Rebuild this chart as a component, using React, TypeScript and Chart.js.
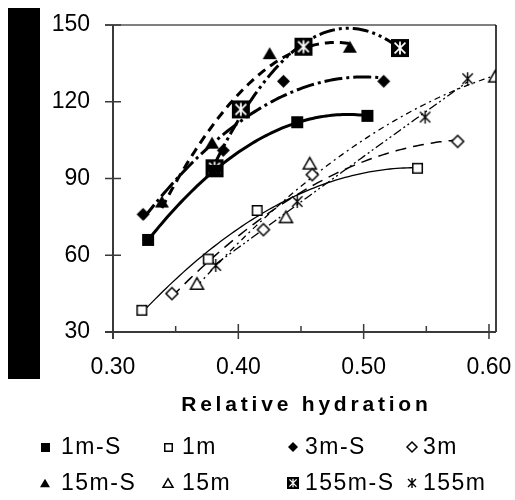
import React, { useEffect, useRef } from 'react';
import { Chart, registerables } from 'chart.js';

Chart.register(...registerables);

// ---------- data ----------
const seriesNames = ['1m-S', '1m', '3m-S', '3m', '15m-S', '15m', '155m-S', '155m'];

const x1mS = [0.328, 0.381, 0.447, 0.503];
const y1mS = [66, 93, 112, 114.5];
const x1m = [0.323, 0.376, 0.415, 0.543];
const y1m = [38.5, 58.5, 77.5, 94];
const x3mS = [0.324, 0.388, 0.436, 0.516];
const y3mS = [76, 101, 128, 128];
const x3m = [0.347, 0.42, 0.459, 0.575];
const y3m = [45, 70, 91.5, 104.5];
const x15mS = [0.339, 0.379, 0.425, 0.489];
const y15mS = [81, 104, 139, 141.5];
const x15m = [0.367, 0.438, 0.457, 0.605];
const y15m = [49, 75, 96, 130];
const x155mS = [0.381, 0.402, 0.452, 0.529];
const y155mS = [94, 117, 141.5, 141];
const x155m = [0.382, 0.447, 0.549, 0.583];
const y155m = [56, 81, 114, 129];

const xTicks = [0.3, 0.4, 0.5, 0.6];
const xMinorTicks = [0.35, 0.45, 0.55];
const yTicks = [30, 60, 90, 120, 150];
const xTitle = 'Relative hydration';

const seriesX = [x1mS, x1m, x3mS, x3m, x15mS, x15m, x155mS, x155m];
const seriesY = [y1mS, y1m, y3mS, y3m, y15mS, y15m, y155mS, y155m];

// ---------- styles ----------
const FONT = "'Liberation Sans', Arial, Helvetica, sans-serif";
const markerKinds = ['sqFill', 'sqOpen', 'diaFill', 'diaOpen', 'triFill', 'triOpen', 'sqStar', 'star'];
const markerSizes = [12, 11, 13, 12, 14, 13, 18, 13];
const legendMarkerSizes = [9, 9, 10, 10, 10, 10, 12, 10];
const trendStyles = [
  { dash: [] as number[], width: 3 },
  { dash: [] as number[], width: 1.3 },
  { dash: [18, 4, 3, 4], width: 3 },
  { dash: [11, 7], width: 1.5 },
  { dash: [9, 6], width: 3 },
  { dash: [6, 4, 2, 4], width: 1.3 },
  { dash: [16, 4, 3, 4, 3, 4], width: 3 },
  { dash: [9, 3, 2, 3, 2, 3], width: 1.3 },
];
const legendMarkerX = [45, 168, 293, 412];
const legendTextX = [61, 182, 305, 423];
const legendRowY = [447, 483];

function makeMarker(kind: string, s: number): HTMLCanvasElement {
  const pad = 2;
  const W = Math.ceil(s + pad * 2);
  const c = document.createElement('canvas');
  c.width = W;
  c.height = W;
  const g = c.getContext('2d')!;
  const cx = W / 2;
  const cy = W / 2;
  const h = s / 2;
  g.lineJoin = 'miter';
  g.strokeStyle = '#000';
  g.fillStyle = '#000';
  const diamond = () => {
    g.beginPath();
    g.moveTo(cx, cy - h);
    g.lineTo(cx + h, cy);
    g.lineTo(cx, cy + h);
    g.lineTo(cx - h, cy);
    g.closePath();
  };
  const tri = () => {
    const th = s * 0.87;
    g.beginPath();
    g.moveTo(cx, cy - th / 2);
    g.lineTo(cx + h, cy + th / 2);
    g.lineTo(cx - h, cy + th / 2);
    g.closePath();
  };
  switch (kind) {
    case 'sqFill':
      g.fillRect(cx - h, cy - h, s, s);
      break;
    case 'sqOpen':
      g.fillStyle = '#fff';
      g.fillRect(cx - h, cy - h, s, s);
      g.lineWidth = 1.5;
      g.strokeRect(cx - h + 0.75, cy - h + 0.75, s - 1.5, s - 1.5);
      break;
    case 'diaFill':
      diamond();
      g.fill();
      break;
    case 'diaOpen':
      diamond();
      g.fillStyle = '#fff';
      g.fill();
      g.lineWidth = 1.5;
      g.stroke();
      break;
    case 'triFill':
      tri();
      g.fill();
      break;
    case 'triOpen':
      tri();
      g.fillStyle = '#fff';
      g.fill();
      g.lineWidth = 1.5;
      g.stroke();
      break;
    case 'sqStar': {
      g.fillRect(cx - h, cy - h, s, s);
      g.strokeStyle = '#fff';
      g.lineWidth = s > 14 ? 1.8 : 1.3;
      const a = s * 0.36;
      const d = s * 0.3;
      g.beginPath();
      g.moveTo(cx, cy - a);
      g.lineTo(cx, cy + a);
      g.moveTo(cx - d, cy - d);
      g.lineTo(cx + d, cy + d);
      g.moveTo(cx + d, cy - d);
      g.lineTo(cx - d, cy + d);
      g.stroke();
      break;
    }
    case 'star': {
      g.lineWidth = 1.4;
      const a = h;
      const d = h * 0.8;
      g.beginPath();
      g.moveTo(cx, cy - a);
      g.lineTo(cx, cy + a);
      g.moveTo(cx - d, cy - d);
      g.lineTo(cx + d, cy + d);
      g.moveTo(cx + d, cy - d);
      g.lineTo(cx - d, cy + d);
      g.stroke();
      break;
    }
  }
  return c;
}

function solve3(M: number[][], v: number[]): number[] {
  const A = M.map((r, i) => [...r, v[i]]);
  for (let i = 0; i < 3; i++) {
    let p = i;
    for (let r = i + 1; r < 3; r++) if (Math.abs(A[r][i]) > Math.abs(A[p][i])) p = r;
    [A[i], A[p]] = [A[p], A[i]];
    for (let r = 0; r < 3; r++) {
      if (r === i) continue;
      const f = A[r][i] / A[i][i];
      for (let k = i; k < 4; k++) A[r][k] -= f * A[i][k];
    }
  }
  return [A[0][3] / A[0][0], A[1][3] / A[1][1], A[2][3] / A[2][2]];
}

// least-squares 2nd-order polynomial trendline (as in the spreadsheet chart)
function quadFit(xs: number[], ys: number[]) {
  const m = xs.reduce((a, b) => a + b, 0) / xs.length;
  let S0 = 0, S1 = 0, S2 = 0, S3 = 0, S4 = 0, T0 = 0, T1 = 0, T2 = 0;
  xs.forEach((x0, i) => {
    const x = x0 - m;
    const y = ys[i];
    S0 += 1; S1 += x; S2 += x * x; S3 += x * x * x; S4 += x * x * x * x;
    T0 += y; T1 += x * y; T2 += x * x * y;
  });
  const [a, b, c] = solve3([[S0, S1, S2], [S1, S2, S3], [S2, S3, S4]], [T0, T1, T2]);
  return (x: number) => {
    const t = x - m;
    return a + b * t + c * t * t;
  };
}

export default function App() {
  const ref = useRef<HTMLCanvasElement | null>(null);

  useEffect(() => {
    if (!ref.current) return;
    const markers = markerKinds.map((k, i) => makeMarker(k, markerSizes[i]));
    const legendMarkers = markerKinds.map((k, i) => makeMarker(k, legendMarkerSizes[i]));

    const trendPlugin = {
      id: 'trendlines',
      beforeDatasetsDraw(chart: any) {
        const { ctx, scales } = chart;
        const xs = scales.x;
        const ys = scales.y;
        seriesX.forEach((xArr, i) => {
          const f = quadFit(xArr, seriesY[i]);
          const lo = Math.min(...xArr);
          const hi = Math.max(...xArr);
          const st = trendStyles[i];
          ctx.save();
          ctx.strokeStyle = '#000';
          ctx.lineWidth = st.width;
          ctx.setLineDash(st.dash);
          ctx.lineCap = 'butt';
          ctx.lineJoin = 'round';
          ctx.beginPath();
          const N = 80;
          for (let k = 0; k <= N; k++) {
            const xv = lo + ((hi - lo) * k) / N;
            const px = xs.getPixelForValue(xv);
            const py = ys.getPixelForValue(f(xv));
            if (k === 0) ctx.moveTo(px, py);
            else ctx.lineTo(px, py);
          }
          ctx.stroke();
          ctx.restore();
        });
      },
    };

    const framePlugin = {
      id: 'frame',
      afterDraw(chart: any) {
        const { ctx, chartArea: ca, scales } = chart;
        const xs = scales.x;
        const ys = scales.y;
        ctx.save();
        // top border
        ctx.strokeStyle = '#808080';
        ctx.lineWidth = 2;
        ctx.beginPath();
        ctx.moveTo(ca.left - 8, ca.top);
        ctx.lineTo(ca.right, ca.top);
        ctx.stroke();
        // right border
        ctx.strokeStyle = '#000';
        ctx.lineWidth = 1.5;
        ctx.beginPath();
        ctx.moveTo(ca.right, ca.top);
        ctx.lineTo(ca.right, ca.bottom);
        ctx.stroke();
        // axes
        ctx.strokeStyle = '#3a3a3a';
        ctx.lineWidth = 2;
        ctx.beginPath();
        ctx.moveTo(ca.left, ca.top);
        ctx.lineTo(ca.left, ca.bottom + 7);
        ctx.moveTo(ca.left - 8, ca.bottom);
        ctx.lineTo(ca.right, ca.bottom);
        ctx.stroke();
        // ticks
        ctx.lineWidth = 1.5;
        ctx.beginPath();
        xTicks.forEach((v) => {
          const px = xs.getPixelForValue(v);
          ctx.moveTo(px, ca.bottom - 8);
          ctx.lineTo(px, ca.bottom + 7);
        });
        xMinorTicks.forEach((v) => {
          const px = xs.getPixelForValue(v);
          ctx.moveTo(px, ca.bottom - 6);
          ctx.lineTo(px, ca.bottom);
        });
        yTicks.forEach((v) => {
          const py = ys.getPixelForValue(v);
          ctx.moveTo(ca.left - 8, py);
          ctx.lineTo(ca.left + 8, py);
        });
        ctx.stroke();

        // axis title
        ctx.fillStyle = '#000';
        ctx.font = `bold 21px ${FONT}`;
        ctx.textBaseline = 'middle';
        ctx.textAlign = 'left';
        (ctx as any).letterSpacing = '3.8px';
        const tw = ctx.measureText(xTitle).width - 3.8;
        ctx.fillText(xTitle, (ca.left + ca.right) / 2 - tw / 2, 405);

        // legend
        ctx.font = `23px ${FONT}`;
        (ctx as any).letterSpacing = '1.5px';
        seriesNames.forEach((name, i) => {
          const row = Math.floor(i / 4);
          const col = i % 4;
          const m = legendMarkers[i];
          const cy = legendRowY[row];
          ctx.drawImage(m, Math.round(legendMarkerX[col] - m.width / 2), Math.round(cy - m.height / 2));
          ctx.fillText(name, legendTextX[col], cy + 1);
        });
        (ctx as any).letterSpacing = '0px';
        ctx.restore();
      },
    };

    const chart = new Chart(ref.current, {
      type: 'scatter',
      data: {
        datasets: seriesNames.map((name, i) => ({
          label: name,
          data: seriesX[i].map((x, k) => ({ x, y: seriesY[i][k] })),
          pointStyle: markers[i] as any,
          pointRadius: markerSizes[i] / 2,
          pointHoverRadius: markerSizes[i] / 2,
          showLine: false,
          borderColor: '#000',
          backgroundColor: '#000',
        })),
      },
      options: {
        responsive: false,
        animation: false,
        events: [],
        layout: { padding: { top: 25, right: 19, left: 0, bottom: 0 } },
        plugins: {
          legend: { display: false },
          tooltip: { enabled: false },
          title: { display: false },
        },
        scales: {
          x: {
            type: 'linear',
            min: 0.3,
            max: 0.6056,
            afterBuildTicks: (s: any) => {
              s.ticks = xTicks.map((v) => ({ value: v }));
            },
            afterFit: (s: any) => {
              s.height = 168;
              s.paddingLeft = 0;
              s.paddingRight = 0;
            },
            grid: { display: false, drawTicks: false },
            border: { display: false },
            ticks: {
              autoSkip: false,
              maxRotation: 0,
              padding: 22,
              color: '#000',
              font: { family: FONT, size: 23 },
              callback: (v: any) => Number(v).toFixed(2),
            },
          },
          y: {
            type: 'linear',
            min: 30,
            max: 150,
            afterBuildTicks: (s: any) => {
              s.ticks = yTicks.map((v) => ({ value: v }));
            },
            afterFit: (s: any) => {
              s.width = 113;
              s.paddingTop = 0;
              s.paddingBottom = 0;
            },
            grid: { display: false, drawTicks: false },
            border: { display: false },
            ticks: {
              autoSkip: false,
              padding: 23,
              color: '#000',
              font: { family: FONT, size: 23 },
              callback: (v: any) => String(v),
            },
          },
        },
      },
      plugins: [trendPlugin, framePlugin],
    });
    return () => chart.destroy();
  }, []);

  return (
    <div style={{ position: 'absolute', left: 0, top: 0, width: 515, height: 500, background: '#fff' }}>
      <div style={{ position: 'absolute', left: 8, top: 8, width: 32, height: 371, background: '#000' }} />
      <canvas ref={ref} width={515} height={500} style={{ position: 'absolute', left: 0, top: 0 }} />
    </div>
  );
}
